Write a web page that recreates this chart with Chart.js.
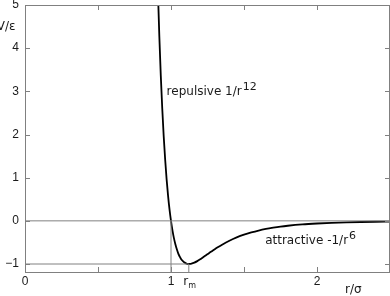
<!DOCTYPE html>
<html>
<head>
<meta charset="utf-8">
<script src="https://cdn.jsdelivr.net/npm/chart.js@4"></script>
<style>
  html, body { margin: 0; padding: 0; background: #fff; }
  canvas { display: block; }
</style>
</head>
<body>
<canvas id="myChart" width="390" height="296"></canvas>
<script>
// Lennard-Jones curve (r/sigma, V/epsilon)
const rValues = [0.90, 0.91, 0.92, 0.93, 0.94, 0.95, 0.96, 0.97, 0.98, 0.99, 1.00,
  1.01, 1.02, 1.03, 1.04, 1.05, 1.06, 1.07, 1.08, 1.09, 1.10, 1.11, 1.12, 1.13,
  1.14, 1.16, 1.18, 1.20, 1.22, 1.24, 1.26, 1.28, 1.30, 1.32, 1.35, 1.40, 1.45,
  1.50, 1.55, 1.60, 1.65, 1.70, 1.75, 1.80, 1.90, 2.00, 2.10, 2.20, 2.30, 2.40, 2.50];
const vValues = [6.64, 5.36, 4.28, 3.37, 2.61, 1.96, 1.42, 0.96, 0.58, 0.26, 0.0,
  -0.22, -0.40, -0.54, -0.66, -0.76, -0.83, -0.89, -0.93, -0.96, -0.98, -0.995, -1.0, -0.998,
  -0.992, -0.968, -0.933, -0.891, -0.845, -0.798, -0.749, -0.703, -0.657, -0.613, -0.552, -0.461, -0.384,
  -0.320, -0.268, -0.224, -0.188, -0.159, -0.134, -0.114, -0.083, -0.062, -0.046, -0.035, -0.027, -0.021, -0.016];

const rMin = 1.122;
const xTicks = [0, 0.5, 1, 1.5, 2];
const yTicks = [-1, 0, 1, 2, 3, 4, 5];
const xLabels = { 0: "0", 1: "1", 2: "2" };

const gray = "#808080";
const ink = "#1a1a1a";

const curve = rValues.map((r, i) => ({ x: r, y: vValues[i] }));

function seg(xs, ys) {
  return xs.map((x, i) => ({ x: x, y: ys[i] }));
}

const guide = (pts) => ({
  data: pts,
  borderColor: gray,
  borderWidth: 1,
  pointRadius: 0,
  fill: false,
});

// frame, inward ticks and text
const decorations = {
  id: "decorations",
  afterDraw(chart) {
    const ctx = chart.ctx;
    const a = chart.chartArea;
    const xs = chart.scales.x;
    const ys = chart.scales.y;
    ctx.save();
    ctx.strokeStyle = gray;
    ctx.lineWidth = 1;
    ctx.beginPath();
    ctx.moveTo(a.left + 0.5, a.top + 0.5);
    ctx.lineTo(a.right - 0.5, a.top + 0.5);
    ctx.lineTo(a.right - 0.5, a.bottom);
    ctx.stroke();
    ctx.beginPath();
    xTicks.forEach((v) => {
      const px = Math.round(xs.getPixelForValue(v)) + 0.5;
      ctx.moveTo(px, a.bottom);
      ctx.lineTo(px, a.bottom - 5);
      ctx.moveTo(px, a.top);
      ctx.lineTo(px, a.top + 5);
    });
    yTicks.forEach((v) => {
      const py = Math.round(ys.getPixelForValue(v)) + 0.5;
      ctx.moveTo(a.left, py);
      ctx.lineTo(a.left + 5, py);
      ctx.moveTo(a.right, py);
      ctx.lineTo(a.right - 5, py);
    });
    ctx.stroke();

    ctx.fillStyle = ink;
    ctx.textBaseline = "alphabetic";
    ctx.font = "12px 'DejaVu Sans'";
    ctx.textAlign = "left";
    // r_m tick label
    const rmX = xs.getPixelForValue(rMin);
    ctx.fillText("r", rmX - 5.5, 285);
    ctx.font = "8px 'DejaVu Sans'";
    ctx.fillText("m", rmX - 0.5, 288);

    // axis titles
    ctx.font = "12px 'DejaVu Sans'";
    ctx.textAlign = "right";
    ctx.fillText("V/ε", 15.5, 30);
    ctx.textAlign = "left";
    ctx.fillText("r/σ", 345, 293);

    // curve labels
    let x = xs.getPixelForValue(0.97);
    let y = ys.getPixelForValue(2.92);
    ctx.fillText("repulsive 1/r", x, y);
    let w = ctx.measureText("repulsive 1/r").width;
    ctx.font = "11px 'DejaVu Sans'";
    ctx.fillText("12", x + w + 1, y - 5);

    ctx.font = "12px 'DejaVu Sans'";
    x = xs.getPixelForValue(1.645);
    y = ys.getPixelForValue(-0.53);
    ctx.fillText("attractive -1/r", x, y);
    w = ctx.measureText("attractive -1/r").width;
    ctx.font = "11px 'DejaVu Sans'";
    ctx.fillText("6", x + w + 1, y - 5);
    ctx.restore();
  },
};

const config = {
  type: "line",
  data: {
    datasets: [
      guide(seg([0, 2.5], [0, 0])),
      guide(seg([0, rMin], [-1, -1])),
      guide(seg([1, 1], [-1.185, 0])),
      guide(seg([rMin, rMin], [-1.185, -1])),
      {
        data: curve,
        borderColor: "#000",
        borderWidth: 1.8,
        pointRadius: 0,
        fill: false,
        cubicInterpolationMode: "monotone",
      },
    ],
  },
  options: {
    responsive: false,
    animation: false,
    layout: { padding: { top: 5, left: 0, right: 0, bottom: 0 } },
    plugins: { legend: { display: false }, tooltip: { enabled: false } },
    scales: {
      x: {
        type: "linear",
        min: 0,
        max: 2.5,
        afterBuildTicks: (scale) => {
          scale.ticks = xTicks.map((v) => ({ value: v }));
        },
        afterFit: (scale) => {
          scale.height = 24;
          scale.paddingLeft = 0;
          scale.paddingRight = 0;
        },
        grid: { display: false, drawTicks: false },
        border: { display: true, color: gray },
        ticks: {
          autoSkip: false,
          maxRotation: 0,
          padding: 2,
          color: ink,
          font: { family: "'Liberation Sans'", size: 12 },
          callback: (v) => xLabels[v] || "",
        },
      },
      y: {
        type: "linear",
        min: -1.185,
        max: 5,
        afterBuildTicks: (scale) => {
          scale.ticks = yTicks.map((v) => ({ value: v }));
        },
        afterFit: (scale) => {
          scale.width = 25;
          scale.paddingTop = 0;
          scale.paddingBottom = 0;
        },
        grid: { display: false, drawTicks: false },
        border: { display: true, color: gray },
        ticks: {
          padding: 6,
          color: ink,
          font: { family: "'Liberation Sans'", size: 12 },
          callback: (v) => (v < 0 ? "\u2212" + Math.abs(v) : String(v)),
        },
      },
    },
  },
  plugins: [decorations],
};

const myChart = new Chart(document.getElementById("myChart"), config);
</script>
</body>
</html>
